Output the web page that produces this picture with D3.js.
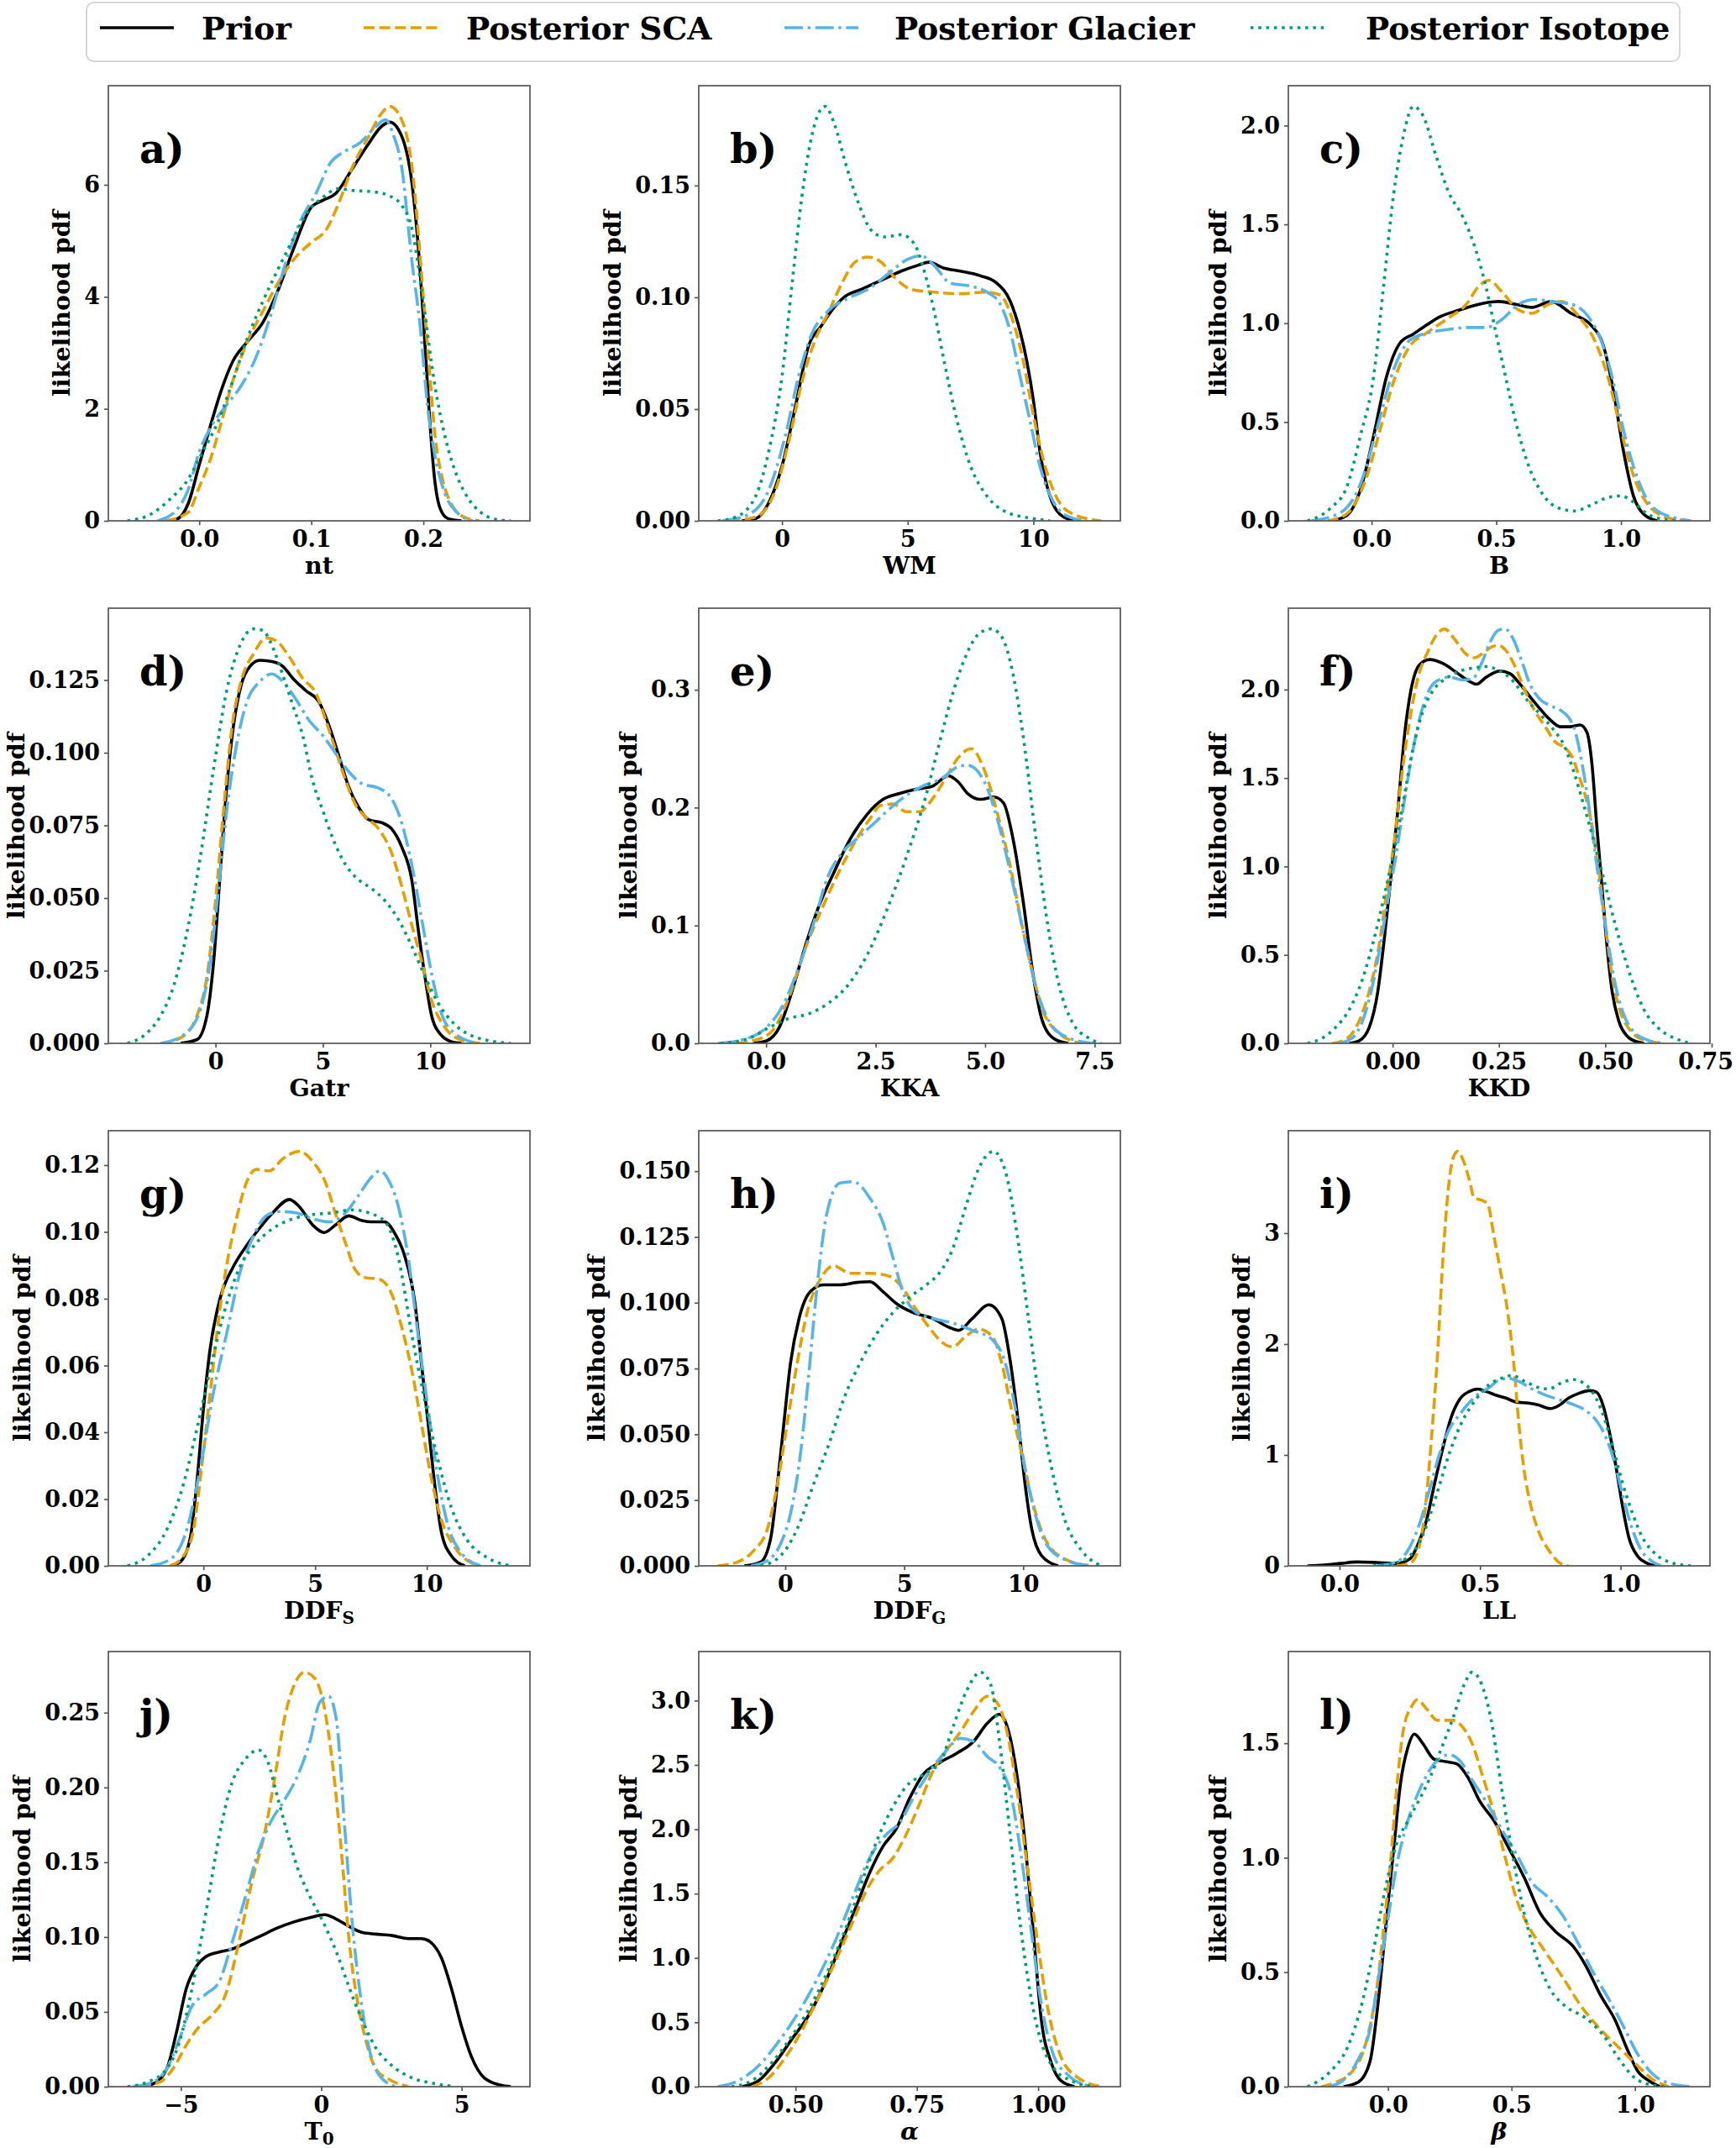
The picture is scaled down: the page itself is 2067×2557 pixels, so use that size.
<!DOCTYPE html>
<html>
<head>
<meta charset="utf-8">
<script src="https://cdn.jsdelivr.net/npm/d3@7"></script>
<style>
  body { margin: 0; background: #fff; }
  svg text { font-family: "DejaVu Serif", serif; font-weight: bold; fill: #000; }
</style>
</head>
<body>
<svg id="chart" width="2067" height="2557" viewBox="0 0 2067 2557" xmlns="http://www.w3.org/2000/svg"></svg>
<script>
// ---- data: [x, density] pairs per series ----
const a_prior = [[-0.03,0],[-0.02,0.03],[-0.01,0.3],[0,1.0],[0.01,1.7],[0.02,2.35],[0.03,2.85],[0.043,3.2],[0.057,3.55],[0.07,4.1],[0.084,4.85],[0.1,5.6],[0.11,5.72],[0.122,5.85],[0.137,6.3],[0.15,6.7],[0.163,7.05],[0.17,7.12],[0.18,6.9],[0.19,6.0],[0.195,5.0],[0.2,3.6],[0.205,2.0],[0.21,0.75],[0.215,0.22],[0.222,0.04],[0.234,0]];
const a_sca = [[-0.03,0],[-0.01,0.15],[0,0.6],[0.01,1.1],[0.02,1.78],[0.03,2.5],[0.043,3.2],[0.057,3.75],[0.07,4.24],[0.087,4.73],[0.1,4.97],[0.114,5.22],[0.124,5.65],[0.137,6.33],[0.15,6.82],[0.164,7.31],[0.17,7.4],[0.18,7.19],[0.19,6.3],[0.2,4.0],[0.205,2.8],[0.21,1.6],[0.217,0.75],[0.225,0.3],[0.235,0.08],[0.25,0]];
const a_gla = [[-0.037,0],[-0.02,0.2],[-0.01,0.55],[0,1.23],[0.01,1.66],[0.023,2.03],[0.037,2.4],[0.05,2.89],[0.063,3.62],[0.077,4.6],[0.09,5.34],[0.104,5.84],[0.117,6.39],[0.13,6.6],[0.144,6.76],[0.157,7.03],[0.166,7.16],[0.174,6.85],[0.18,6.4],[0.19,4.6],[0.197,3.5],[0.204,2.0],[0.21,1.2],[0.22,0.45],[0.23,0.15],[0.244,0]];
const a_iso = [[-0.064,0],[-0.043,0.12],[-0.027,0.37],[-0.01,0.74],[0.003,1.23],[0.017,1.78],[0.03,2.5],[0.043,3.26],[0.057,3.93],[0.07,4.48],[0.084,5.04],[0.097,5.53],[0.11,5.77],[0.124,5.93],[0.137,5.9],[0.157,5.87],[0.17,5.8],[0.18,5.65],[0.19,5.2],[0.2,3.9],[0.21,2.45],[0.22,1.45],[0.23,0.8],[0.24,0.4],[0.25,0.17],[0.264,0.03],[0.278,0]];

const b_prior = [[-1.6,0],[-1.05,0.001],[-0.53,0.008],[0,0.0245],[0.53,0.051],[1.05,0.078],[1.58,0.0875],[1.97,0.094],[2.5,0.1003],[3.16,0.1036],[3.95,0.1076],[4.74,0.1117],[5.4,0.1143],[5.84,0.1157],[6.45,0.113],[7.1,0.1117],[7.9,0.1096],[8.55,0.1063],[9.08,0.0983],[9.47,0.0849],[9.74,0.0714],[10,0.054],[10.26,0.0312],[10.66,0.011],[11.05,0.003],[11.6,0]];
const b_sca = [[-2.1,0],[-1.05,0.0017],[-0.26,0.0138],[0.26,0.035],[0.79,0.062],[1.32,0.081],[1.84,0.093],[2.37,0.106],[2.9,0.1157],[3.42,0.118],[3.95,0.1157],[4.47,0.109],[5.13,0.1036],[6.05,0.1023],[7.1,0.1016],[8.16,0.1023],[8.68,0.101],[9.2,0.0889],[9.6,0.0714],[10,0.0473],[10.4,0.0272],[10.9,0.011],[11.58,0.003],[12.7,0]];
const b_gla = [[-2.37,0],[-1.3,0.003],[-0.53,0.0138],[0.13,0.038],[0.66,0.0647],[1.18,0.0835],[1.84,0.094],[2.63,0.0996],[3.42,0.1036],[4.2,0.1103],[5,0.117],[5.53,0.1186],[6.05,0.1143],[6.7,0.1063],[7.5,0.105],[8.16,0.1023],[8.68,0.097],[9.08,0.0849],[9.47,0.0647],[9.87,0.0446],[10.26,0.0245],[10.8,0.0084],[11.3,0.0024],[12.1,0]];
const b_iso = [[-2.55,0],[-1.84,0.0017],[-1.05,0.011],[-0.53,0.031],[0,0.0647],[0.39,0.105],[0.79,0.145],[1.18,0.172],[1.71,0.1854],[2.1,0.177],[2.5,0.161],[3.03,0.1425],[3.55,0.13],[4.08,0.127],[4.74,0.128],[5.26,0.124],[5.66,0.1117],[6.05,0.094],[6.45,0.0714],[6.97,0.0446],[7.5,0.0245],[8.16,0.011],[8.95,0.0038],[10,0.001],[10.66,0]];

const c_prior = [[-0.164,0],[-0.1,0.027],[-0.045,0.156],[0.008,0.43],[0.06,0.73],[0.114,0.9],[0.167,0.945],[0.22,0.99],[0.27,1.03],[0.35,1.066],[0.43,1.096],[0.51,1.11],[0.577,1.096],[0.643,1.08],[0.72,1.11],[0.8,1.05],[0.88,0.99],[0.93,0.884],[0.97,0.656],[1.01,0.353],[1.05,0.126],[1.09,0.035],[1.145,0]];
const c_sca = [[-0.177,0],[-0.1,0.035],[-0.018,0.23],[0.034,0.46],[0.087,0.7],[0.153,0.884],[0.22,0.95],[0.3,1.02],[0.38,1.096],[0.43,1.187],[0.47,1.217],[0.524,1.157],[0.59,1.066],[0.643,1.05],[0.71,1.096],[0.76,1.11],[0.83,1.035],[0.894,0.914],[0.947,0.73],[1.0,0.46],[1.05,0.23],[1.12,0.065],[1.2,0.012],[1.28,0]];
const c_gla = [[-0.243,0],[-0.124,0.042],[-0.045,0.186],[0.02,0.46],[0.087,0.76],[0.153,0.914],[0.22,0.95],[0.3,0.967],[0.38,0.978],[0.458,0.978],[0.524,1.02],[0.59,1.096],[0.656,1.12],[0.72,1.11],[0.8,1.096],[0.868,1.035],[0.92,0.914],[0.97,0.7],[1.01,0.46],[1.066,0.217],[1.13,0.065],[1.225,0.012],[1.28,0]];
const c_iso = [[-0.257,0],[-0.164,0.065],[-0.1,0.17],[-0.045,0.43],[0.008,0.73],[0.048,1.187],[0.087,1.64],[0.127,1.945],[0.167,2.097],[0.206,2.05],[0.26,1.84],[0.31,1.66],[0.365,1.54],[0.418,1.37],[0.458,1.187],[0.497,0.96],[0.537,0.73],[0.577,0.505],[0.63,0.277],[0.683,0.14],[0.75,0.065],[0.815,0.05],[0.88,0.08],[0.947,0.118],[1.0,0.126],[1.05,0.095],[1.106,0.035],[1.17,0.008],[1.225,0]];

const d_prior = [[-1.63,0],[-0.86,0.0013],[-0.4,0.0096],[-0.09,0.028],[0.22,0.059],[0.52,0.088],[0.83,0.109],[1.2,0.1235],[1.6,0.1297],[2.06,0.1318],[2.68,0.1313],[3.14,0.1297],[3.6,0.1256],[4.2,0.1214],[4.83,0.1173],[5.3,0.109],[5.75,0.0987],[6.2,0.0883],[6.68,0.081],[7.14,0.0769],[7.75,0.0759],[8.2,0.0738],[8.67,0.0676],[9.14,0.0562],[9.45,0.0386],[9.75,0.0231],[10.06,0.0096],[10.5,0.0029],[11,0.0005],[11.45,0]];
const d_sca = [[-2.55,0],[-1.63,0.0019],[-0.86,0.0096],[-0.4,0.023],[0,0.049],[0.37,0.08],[0.77,0.109],[1.23,0.1256],[1.75,0.1338],[2.37,0.1395],[2.83,0.1385],[3.45,0.1328],[4.06,0.1256],[4.68,0.1204],[5.14,0.111],[5.6,0.1007],[6.06,0.0904],[6.52,0.0821],[6.98,0.078],[7.6,0.0738],[8.2,0.0655],[8.67,0.0541],[9.14,0.0407],[9.6,0.0283],[10.06,0.0148],[10.68,0.0055],[11.45,0.0011],[12.37,0]];
const d_gla = [[-2.55,0],[-1.48,0.0029],[-0.7,0.0117],[-0.25,0.028],[0.15,0.054],[0.52,0.08],[0.98,0.1028],[1.45,0.1173],[2.06,0.1245],[2.62,0.1271],[3.14,0.1245],[3.75,0.1183],[4.37,0.111],[5,0.1059],[5.6,0.0997],[6.2,0.0935],[6.83,0.0893],[7.6,0.0878],[8.2,0.0842],[8.67,0.0759],[9.14,0.0614],[9.6,0.0428],[10.06,0.0241],[10.5,0.0107],[11.14,0.0034],[12.2,0]];
const d_iso = [[-4.1,0],[-3.3,0.0029],[-2.55,0.0096],[-1.94,0.02],[-1.32,0.0386],[-0.7,0.0645],[-0.09,0.0945],[0.52,0.1214],[1.14,0.137],[1.75,0.1426],[2.2,0.1421],[2.68,0.136],[3.14,0.1266],[3.6,0.1163],[4.06,0.1059],[4.52,0.0904],[5,0.08],[5.45,0.0707],[6.06,0.0614],[6.68,0.0562],[7.3,0.0531],[7.9,0.049],[8.5,0.0428],[9.14,0.0334],[9.75,0.0231],[10.37,0.0138],[11.14,0.0065],[12.2,0.0019],[13.75,0]];

const e_prior = [[-0.3,0],[0,0.002],[0.3,0.0135],[0.59,0.044],[0.89,0.082],[1.19,0.115],[1.56,0.146],[1.93,0.174],[2.3,0.194],[2.67,0.207],[3.05,0.212],[3.42,0.2156],[3.79,0.218],[4.16,0.227],[4.38,0.222],[4.6,0.212],[4.9,0.207],[5.2,0.209],[5.42,0.204],[5.65,0.171],[5.87,0.12],[6.1,0.057],[6.31,0.0186],[6.6,0.0033],[6.9,0]];
const e_sca = [[-0.67,0],[-0.22,0.003],[0.15,0.011],[0.52,0.039],[0.89,0.08],[1.26,0.113],[1.63,0.143],[2,0.169],[2.38,0.191],[2.6,0.2016],[2.9,0.203],[3.2,0.1965],[3.5,0.1965],[3.79,0.207],[4.09,0.2245],[4.38,0.242],[4.68,0.25],[4.98,0.232],[5.27,0.1965],[5.57,0.151],[5.87,0.095],[6.1,0.057],[6.31,0.0287],[6.69,0.0084],[7.2,0]];
const e_gla = [[-1.1,0],[-0.52,0.0033],[-0.07,0.011],[0.37,0.0313],[0.74,0.064],[1.11,0.105],[1.4,0.1406],[1.78,0.1635],[2.15,0.176],[2.53,0.189],[2.9,0.2016],[3.27,0.212],[3.64,0.2194],[4,0.2245],[4.38,0.2347],[4.6,0.236],[4.98,0.222],[5.27,0.1915],[5.57,0.146],[5.87,0.095],[6.17,0.0465],[6.46,0.0186],[6.9,0.0046],[7.5,0]];
const e_iso = [[-1.04,0],[-0.37,0.0046],[0.07,0.0135],[0.52,0.0211],[0.97,0.025],[1.41,0.0338],[1.86,0.049],[2.3,0.0745],[2.75,0.1126],[3.2,0.158],[3.64,0.209],[3.94,0.2525],[4.23,0.293],[4.53,0.326],[4.83,0.3465],[5.13,0.3516],[5.35,0.3465],[5.65,0.311],[5.87,0.26],[6.17,0.171],[6.4,0.1075],[6.69,0.049],[6.98,0.0186],[7.36,0.0046],[7.65,0]];

const f_prior = [[-0.102,0],[-0.079,0.014],[-0.055,0.09],[-0.035,0.29],[-0.02,0.58],[-0.004,0.94],[0.012,1.31],[0.028,1.74],[0.043,1.995],[0.063,2.14],[0.087,2.17],[0.118,2.148],[0.15,2.097],[0.181,2.046],[0.197,2.03],[0.22,2.07],[0.252,2.105],[0.276,2.09],[0.3,2.03],[0.323,1.96],[0.347,1.89],[0.37,1.83],[0.394,1.79],[0.418,1.79],[0.441,1.8],[0.457,1.757],[0.469,1.57],[0.48,1.23],[0.492,0.89],[0.504,0.55],[0.516,0.294],[0.532,0.124],[0.552,0.039],[0.575,0.008],[0.591,0]];
const f_sca = [[-0.142,0],[-0.11,0.022],[-0.079,0.124],[-0.055,0.294],[-0.032,0.55],[-0.012,0.89],[0.004,1.145],[0.02,1.485],[0.04,1.825],[0.059,2.06],[0.083,2.216],[0.106,2.318],[0.122,2.343],[0.146,2.284],[0.173,2.2],[0.193,2.18],[0.213,2.207],[0.232,2.24],[0.248,2.25],[0.268,2.216],[0.288,2.13],[0.311,1.995],[0.335,1.876],[0.359,1.79],[0.382,1.705],[0.406,1.67],[0.422,1.62],[0.437,1.52],[0.453,1.4],[0.469,1.23],[0.485,0.974],[0.5,0.668],[0.516,0.38],[0.536,0.175],[0.559,0.073],[0.591,0.019],[0.638,0]];
const f_gla = [[-0.126,0],[-0.095,0.03],[-0.071,0.124],[-0.047,0.33],[-0.028,0.566],[-0.008,0.855],[0.008,1.06],[0.024,1.315],[0.04,1.553],[0.059,1.79],[0.079,1.96],[0.102,2.046],[0.134,2.07],[0.165,2.054],[0.189,2.063],[0.209,2.148],[0.229,2.267],[0.248,2.335],[0.264,2.343],[0.284,2.284],[0.303,2.165],[0.323,2.03],[0.347,1.944],[0.37,1.91],[0.394,1.884],[0.414,1.842],[0.43,1.757],[0.445,1.587],[0.461,1.35],[0.477,1.06],[0.492,0.804],[0.508,0.55],[0.524,0.328],[0.544,0.158],[0.567,0.065],[0.599,0.019],[0.638,0]];
const f_iso = [[-0.2,0],[-0.165,0.03],[-0.134,0.09],[-0.102,0.19],[-0.071,0.362],[-0.039,0.634],[-0.016,0.872],[0.004,1.093],[0.024,1.35],[0.047,1.655],[0.071,1.876],[0.095,1.995],[0.126,2.063],[0.158,2.105],[0.189,2.122],[0.221,2.13],[0.252,2.105],[0.284,2.046],[0.315,1.944],[0.347,1.86],[0.378,1.774],[0.402,1.69],[0.426,1.535],[0.449,1.35],[0.473,1.145],[0.497,0.923],[0.52,0.702],[0.544,0.498],[0.567,0.328],[0.591,0.19],[0.623,0.09],[0.662,0.03],[0.701,0]];

const g_prior = [[-1.48,0],[-1.04,0.0012],[-0.59,0.0084],[-0.3,0.0246],[0,0.047],[0.3,0.065],[0.74,0.08],[1.33,0.0895],[1.92,0.0958],[2.5,0.101],[3.1,0.1057],[3.85,0.1097],[4.3,0.1075],[4.9,0.102],[5.4,0.0998],[5.9,0.102],[6.5,0.1048],[7.1,0.1034],[7.54,0.103],[8.1,0.103],[8.58,0.0994],[9.0,0.093],[9.47,0.0786],[9.76,0.0606],[10.06,0.0426],[10.35,0.0246],[10.65,0.0102],[11.1,0.003],[11.7,0]];
const g_sca = [[-1.48,0],[-0.89,0.003],[-0.44,0.011],[-0.09,0.029],[0.3,0.0516],[0.68,0.074],[1.04,0.09],[1.48,0.104],[1.92,0.1147],[2.37,0.1187],[2.96,0.1183],[3.55,0.1219],[4.3,0.1241],[4.9,0.121],[5.47,0.1147],[5.9,0.1057],[6.36,0.0967],[6.8,0.0886],[7.25,0.0863],[7.84,0.0859],[8.43,0.0814],[8.88,0.0714],[9.32,0.0588],[9.76,0.0426],[10.2,0.0264],[10.65,0.0138],[11.24,0.0057],[12.3,0]];
const g_gla = [[-2.37,0],[-1.48,0.002],[-0.74,0.011],[-0.15,0.029],[0.44,0.0516],[1.04,0.0696],[1.63,0.0877],[2.22,0.0985],[2.8,0.1048],[3.4,0.1061],[4.14,0.1057],[4.9,0.1039],[5.62,0.103],[6.36,0.1057],[6.95,0.111],[7.54,0.1165],[7.9,0.1183],[8.28,0.1156],[8.73,0.1075],[9.17,0.0922],[9.6,0.0696],[10.06,0.047],[10.5,0.0264],[10.95,0.012],[11.54,0.0039],[12.4,0]];
const g_iso = [[-3.4,0],[-2.5,0.003],[-1.63,0.011],[-0.89,0.0246],[-0.3,0.0408],[0.3,0.0588],[0.89,0.075],[1.63,0.0895],[2.37,0.0967],[3.1,0.101],[4,0.1039],[4.9,0.1052],[5.77,0.1057],[6.66,0.1066],[7.4,0.1057],[8.14,0.103],[8.73,0.0922],[9.32,0.0696],[9.9,0.0498],[10.5,0.0318],[11.1,0.0174],[11.83,0.0075],[12.7,0.0025],[13.76,0]];

const h_prior = [[-1.72,0],[-1.03,0.0015],[-0.61,0.0106],[-0.33,0.031],[-0.06,0.054],[0.22,0.077],[0.58,0.094],[1.06,0.1043],[1.6,0.1068],[2.3,0.1068],[3,0.1077],[3.56,0.108],[4.1,0.1043],[4.67,0.0997],[5.36,0.0963],[6.2,0.094],[6.9,0.0906],[7.3,0.0895],[7.86,0.094],[8.56,0.0992],[9.1,0.094],[9.47,0.077],[9.8,0.054],[10.08,0.031],[10.36,0.014],[10.78,0.0038],[11.47,0]];
const h_sca = [[-2.83,0],[-2,0.0015],[-1.3,0.006],[-0.75,0.014],[-0.33,0.031],[0.08,0.054],[0.5,0.077],[0.92,0.0963],[1.47,0.1089],[2.03,0.114],[2.72,0.1112],[3.56,0.1112],[4.4,0.11],[4.94,0.1055],[5.5,0.0975],[6.05,0.0906],[6.6,0.0849],[7.03,0.0832],[7.58,0.0872],[8.14,0.09],[8.7,0.0872],[9.1,0.077],[9.5,0.0598],[9.94,0.0426],[10.36,0.0255],[10.9,0.0106],[11.75,0.0026],[12.86,0]];
const h_gla = [[-1.44,0],[-0.75,0.002],[-0.2,0.0083],[0.22,0.0198],[0.64,0.0426],[0.97,0.071],[1.33,0.1055],[1.75,0.134],[2.3,0.1455],[2.86,0.146],[3.56,0.1397],[4.1,0.1306],[4.53,0.117],[4.94,0.1043],[5.5,0.0963],[6.2,0.094],[7.03,0.0923],[7.86,0.0895],[8.7,0.086],[9.25,0.077],[9.67,0.0598],[10.08,0.0369],[10.5,0.0198],[11.05,0.0072],[12,0.0015],[12.86,0]];
const h_iso = [[-1.03,0],[-0.2,0.0038],[0.5,0.014],[1.19,0.031],[1.9,0.048],[2.44,0.063],[3.14,0.077],[3.83,0.088],[4.53,0.0963],[5.22,0.102],[5.9,0.1066],[6.47,0.1112],[7.03,0.1203],[7.58,0.1363],[8.14,0.1512],[8.75,0.1575],[9.25,0.15],[9.8,0.1226],[10.22,0.094],[10.64,0.0655],[11.2,0.0369],[11.75,0.0175],[12.44,0.006],[13.28,0]];

const i_prior = [[-0.114,0],[-0.055,0.008],[0.004,0.022],[0.062,0.035],[0.133,0.03],[0.203,0.022],[0.25,0.062],[0.28,0.2],[0.31,0.415],[0.338,0.74],[0.368,1.066],[0.397,1.337],[0.427,1.5],[0.462,1.573],[0.492,1.595],[0.521,1.573],[0.556,1.54],[0.592,1.513],[0.627,1.478],[0.673,1.467],[0.708,1.45],[0.75,1.418],[0.78,1.445],[0.815,1.513],[0.85,1.554],[0.89,1.58],[0.914,1.567],[0.938,1.445],[0.961,1.2],[0.985,0.876],[1.008,0.523],[1.03,0.252],[1.06,0.09],[1.096,0.022],[1.125,0]];
const i_sca = [[0.203,0],[0.25,0.022],[0.28,0.144],[0.303,0.47],[0.327,1.147],[0.35,1.96],[0.368,2.775],[0.386,3.37],[0.403,3.67],[0.42,3.737],[0.438,3.67],[0.462,3.48],[0.479,3.317],[0.503,3.3],[0.527,3.263],[0.55,2.965],[0.574,2.64],[0.597,2.313],[0.62,1.825],[0.638,1.283],[0.656,0.876],[0.68,0.55],[0.709,0.306],[0.744,0.144],[0.779,0.035],[0.814,0]];
const i_gla = [[0.133,0],[0.203,0.035],[0.25,0.17],[0.286,0.388],[0.32,0.686],[0.356,1.01],[0.39,1.23],[0.427,1.364],[0.462,1.473],[0.497,1.554],[0.533,1.608],[0.568,1.676],[0.6,1.69],[0.638,1.663],[0.685,1.595],[0.732,1.54],[0.78,1.5],[0.826,1.46],[0.873,1.405],[0.914,1.31],[0.95,1.147],[0.979,0.93],[1.008,0.632],[1.038,0.36],[1.073,0.144],[1.108,0.049],[1.143,0]];
const i_iso = [[0.12,0],[0.19,0.022],[0.25,0.09],[0.297,0.28],[0.344,0.632],[0.39,1.01],[0.438,1.31],[0.485,1.5],[0.533,1.635],[0.58,1.695],[0.614,1.717],[0.66,1.663],[0.708,1.608],[0.744,1.595],[0.79,1.65],[0.832,1.68],[0.867,1.65],[0.903,1.554],[0.938,1.364],[0.973,1.066],[1.008,0.74],[1.043,0.47],[1.079,0.252],[1.12,0.117],[1.167,0.04],[1.25,0]];

const j_prior = [[-6.57,0],[-5.98,0.002],[-5.5,0.012],[-5.16,0.036],[-4.8,0.066],[-4.46,0.08],[-4.1,0.087],[-3.64,0.09],[-3.18,0.092],[-2.7,0.096],[-2.13,0.101],[-1.57,0.106],[-1,0.11],[-0.4,0.113],[0.12,0.115],[0.54,0.112],[1,0.107],[1.47,0.103],[1.94,0.102],[2.52,0.101],[3.1,0.099],[3.57,0.099],[3.93,0.096],[4.28,0.086],[4.63,0.066],[5,0.04],[5.35,0.02],[5.8,0.006],[6.4,0.001],[6.75,0]];
const j_sca = [[-6.45,0],[-5.75,0.003],[-5.28,0.012],[-4.8,0.028],[-4.35,0.04],[-3.88,0.048],[-3.4,0.062],[-2.94,0.096],[-2.47,0.137],[-2,0.171],[-1.65,0.207],[-1.3,0.247],[-0.95,0.269],[-0.6,0.277],[-0.23,0.273],[0.07,0.257],[0.42,0.213],[0.72,0.157],[1,0.096],[1.3,0.056],[1.6,0.03],[1.94,0.012],[2.4,0.005],[3.1,0]];
const j_gla = [[-6.7,0],[-6,0.003],[-5.5,0.012],[-5.05,0.032],[-4.6,0.054],[-4.1,0.062],[-3.64,0.07],[-3.18,0.096],[-2.7,0.127],[-2.24,0.157],[-1.8,0.177],[-1.33,0.191],[-0.86,0.207],[-0.4,0.231],[-0.05,0.257],[0.26,0.261],[0.54,0.245],[0.82,0.177],[1.12,0.106],[1.43,0.056],[1.7,0.026],[2.05,0.008],[2.64,0]];
const j_iso = [[-6.9,0],[-6.2,0.003],[-5.5,0.012],[-5.05,0.03],[-4.6,0.066],[-4.1,0.117],[-3.64,0.167],[-3.18,0.203],[-2.7,0.219],[-2.24,0.225],[-1.9,0.217],[-1.55,0.193],[-1.2,0.169],[-0.86,0.147],[-0.4,0.127],[0.07,0.11],[0.54,0.09],[1,0.066],[1.47,0.044],[1.94,0.026],[2.52,0.014],[3.22,0.006],[4.05,0.002],[4.75,0]];

const k_prior = [[0.39,0],[0.424,0.047],[0.458,0.187],[0.493,0.373],[0.528,0.56],[0.562,0.816],[0.597,1.143],[0.625,1.4],[0.652,1.656],[0.68,1.866],[0.708,2.006],[0.735,2.24],[0.763,2.426],[0.798,2.52],[0.832,2.59],[0.867,2.683],[0.895,2.823],[0.92,2.893],[0.936,2.8],[0.957,2.403],[0.975,1.82],[0.992,1.12],[1.006,0.536],[1.027,0.187],[1.047,0.047],[1.075,0]];
const k_sca = [[0.41,0],[0.445,0.07],[0.48,0.233],[0.514,0.443],[0.548,0.7],[0.583,0.98],[0.618,1.283],[0.645,1.516],[0.673,1.68],[0.7,1.773],[0.728,1.96],[0.755,2.193],[0.783,2.45],[0.811,2.613],[0.839,2.753],[0.867,2.916],[0.895,3.033],[0.915,2.986],[0.936,2.753],[0.957,2.286],[0.978,1.703],[0.999,1.12],[1.02,0.606],[1.047,0.233],[1.082,0.07],[1.13,0]];
const k_gla = [[0.34,0],[0.382,0.047],[0.424,0.163],[0.465,0.35],[0.507,0.583],[0.548,0.863],[0.583,1.143],[0.618,1.47],[0.652,1.773],[0.687,1.96],[0.715,2.053],[0.742,2.24],[0.777,2.45],[0.811,2.613],[0.839,2.706],[0.867,2.683],[0.895,2.566],[0.922,2.473],[0.943,2.286],[0.964,1.82],[0.985,1.236],[1.006,0.653],[1.033,0.233],[1.061,0.093],[1.11,0]];
const k_iso = [[0.368,0],[0.41,0.047],[0.451,0.187],[0.493,0.397],[0.535,0.653],[0.576,0.98],[0.611,1.306],[0.645,1.68],[0.673,1.96],[0.7,2.17],[0.728,2.333],[0.763,2.426],[0.798,2.52],[0.825,2.8],[0.853,3.08],[0.881,3.22],[0.902,3.126],[0.922,2.636],[0.943,1.936],[0.964,1.236],[0.985,0.7],[1.006,0.35],[1.033,0.14],[1.068,0.047],[1.116,0]];

const l_prior = [[-0.18,0],[-0.12,0.02],[-0.073,0.11],[-0.043,0.34],[-0.02,0.58],[0.003,0.83],[0.026,1.07],[0.05,1.32],[0.08,1.48],[0.107,1.54],[0.14,1.5],[0.187,1.43],[0.232,1.42],[0.278,1.41],[0.324,1.35],[0.37,1.25],[0.43,1.16],[0.49,1.04],[0.553,0.91],[0.615,0.76],[0.676,0.68],[0.752,0.61],[0.8,0.53],[0.86,0.4],[0.92,0.29],[0.966,0.17],[1.01,0.07],[1.058,0.025],[1.1,0]];
const l_sca = [[-0.27,0],[-0.21,0.02],[-0.15,0.06],[-0.09,0.19],[-0.043,0.45],[-0.012,0.75],[0.011,0.99],[0.034,1.29],[0.064,1.57],[0.095,1.66],[0.118,1.69],[0.156,1.65],[0.2,1.6],[0.263,1.6],[0.294,1.58],[0.34,1.5],[0.385,1.35],[0.43,1.19],[0.477,0.99],[0.523,0.81],[0.569,0.7],[0.63,0.6],[0.706,0.48],[0.783,0.35],[0.86,0.25],[0.936,0.17],[1.012,0.09],[1.07,0.033],[1.135,0]];
const l_gla = [[-0.24,0],[-0.18,0.03],[-0.12,0.12],[-0.073,0.25],[-0.035,0.5],[-0.005,0.7],[0.034,0.96],[0.08,1.16],[0.125,1.29],[0.187,1.41],[0.248,1.45],[0.294,1.42],[0.34,1.34],[0.4,1.24],[0.462,1.12],[0.523,1.01],[0.584,0.89],[0.645,0.83],[0.706,0.75],[0.768,0.63],[0.83,0.5],[0.89,0.39],[0.95,0.27],[1.012,0.14],[1.07,0.057],[1.135,0.016],[1.226,0]];
const l_iso = [[-0.326,0],[-0.24,0.06],[-0.165,0.17],[-0.104,0.37],[-0.058,0.6],[-0.012,0.86],[0.034,1.06],[0.08,1.16],[0.125,1.25],[0.17,1.35],[0.217,1.48],[0.263,1.61],[0.31,1.76],[0.34,1.81],[0.378,1.76],[0.416,1.61],[0.462,1.29],[0.508,0.99],[0.553,0.75],[0.6,0.57],[0.66,0.42],[0.72,0.35],[0.8,0.3],[0.875,0.22],[0.936,0.12],[0.997,0.04],[1.058,0.01],[1.135,0]];

const seriesNames = ['Prior', 'Posterior SCA', 'Posterior Glacier', 'Posterior Isotope'];
const panelLetters = ['a)','b)','c)','d)','e)','f)','g)','h)','i)','j)','k)','l)'];
const xLabelMain = ['nt','WM','B','Gatr','KKA','KKD','DDF','DDF','LL','T','\u03B1','\u03B2'];
const xLabelSub = ['','','','','','','S','G','','0','',''];
const xTicks = [[0,0.1,0.2],[0,5,10],[0,0.5,1],[0,5,10],[0,2.5,5,7.5],[0,0.25,0.5,0.75],
                [0,5,10],[0,5,10],[0,0.5,1],[-5,0,5],[0.5,0.75,1],[0,0.5,1]];
const xFormats = ['.1f','d','.1f','d','.1f','.2f','d','d','.1f','d','.2f','.1f'];
const yTicks = [[0,2,4,6],[0,0.05,0.1,0.15],[0,0.5,1,1.5,2],[0,0.025,0.05,0.075,0.1,0.125],
                [0,0.1,0.2,0.3],[0,0.5,1,1.5,2],[0,0.02,0.04,0.06,0.08,0.1,0.12],
                [0,0.025,0.05,0.075,0.1,0.125,0.15],[0,1,2,3],[0,0.05,0.1,0.15,0.2,0.25],
                [0,0.5,1,1.5,2,2.5,3],[0,0.5,1,1.5]];
const yFormats = ['d','.2f','.1f','.3f','.1f','.1f','.2f','.3f','d','.2f','.1f','.1f'];

const panelSeries = [
  [a_prior,a_sca,a_gla,a_iso],[b_prior,b_sca,b_gla,b_iso],[c_prior,c_sca,c_gla,c_iso],
  [d_prior,d_sca,d_gla,d_iso],[e_prior,e_sca,e_gla,e_iso],[f_prior,f_sca,f_gla,f_iso],
  [g_prior,g_sca,g_gla,g_iso],[h_prior,h_sca,h_gla,h_iso],[i_prior,i_sca,i_gla,i_iso],
  [j_prior,j_sca,j_gla,j_iso],[k_prior,k_sca,k_gla,k_iso],[l_prior,l_sca,l_gla,l_iso]
];

// ---- styles & layout ----
const W = 2067, H = 2557;
const colors = ['#000000', '#E69F00', '#56B4E9', '#009E73'];
const dashes = [null, '13,5.6', '22,5.6,3.5,5.6', '3.5,5.8'];
const lineW = 3.6;
const colX = [129, 832, 1534];
const rowY = [102, 724, 1346, 1966];
const pw = 502, ph = 518;
const tickFont = '27px', labelFont = '28.5px';

const svg = d3.select('#chart');
svg.append('rect').attr('width', W).attr('height', H).attr('fill', '#fff');

// legend
const leg = svg.append('g');
leg.append('rect').attr('x', 103).attr('y', 3).attr('width', 1897).attr('height', 70)
  .attr('rx', 9).attr('fill', '#fff').attr('stroke', '#d6d6d6').attr('stroke-width', 2);
const legLineX = [119, 433, 934, 1489];
const legTextX = [240, 555, 1065, 1626];
seriesNames.forEach((name, s) => {
  leg.append('line').attr('x1', legLineX[s]).attr('x2', legLineX[s] + 88)
    .attr('y1', 33).attr('y2', 33)
    .attr('stroke', colors[s]).attr('stroke-width', lineW)
    .attr('stroke-dasharray', dashes[s]);
  leg.append('text').attr('x', legTextX[s]).attr('y', 47)
    .style('font-size', '37.5px').text(name);
});

const line = d3.line().curve(d3.curveMonotoneX);

panelSeries.forEach((curves, p) => {
  const left = colX[p % 3], top = rowY[Math.floor(p / 3)];
  const all = curves.flat();
  const xe = d3.extent(all, d => d[0]);
  const pad = (xe[1] - xe[0]) * 0.05;
  const ymax = d3.max(all, d => d[1]) * 1.05;

  const x = d3.scaleLinear().domain([xe[0] - pad, xe[1] + pad]).range([0, pw]);
  const y = d3.scaleLinear().domain([0, ymax]).range([ph, 0]);

  const g = svg.append('g').attr('transform', `translate(${left},${top})`);

  g.append('defs').append('clipPath').attr('id', 'clip' + p)
    .append('rect').attr('width', pw).attr('height', ph);

  line.x(d => x(d[0])).y(d => y(d[1]));
  const plot = g.append('g').attr('clip-path', `url(#clip${p})`);
  curves.forEach((c, s) => {
    plot.append('path').datum(c)
      .attr('d', line)
      .attr('fill', 'none')
      .attr('stroke', colors[s])
      .attr('stroke-width', lineW)
      .attr('stroke-linejoin', 'round')
      .attr('stroke-dasharray', dashes[s]);
  });

  // frame
  g.append('rect').attr('width', pw).attr('height', ph)
    .attr('fill', 'none').attr('stroke', '#555').attr('stroke-width', 1.7);

  const xa = g.append('g').attr('transform', `translate(0,${ph})`)
    .call(d3.axisBottom(x).tickValues(xTicks[p]).tickFormat(d3.format(xFormats[p]))
      .tickSizeOuter(0).tickSize(5).tickPadding(7));
  const ya = g.append('g')
    .call(d3.axisLeft(y).tickValues(yTicks[p]).tickFormat(d3.format(yFormats[p]))
      .tickSizeOuter(0).tickSize(5).tickPadding(5));
  [xa, ya].forEach(a => {
    a.select('.domain').remove();
    a.selectAll('line').attr('stroke', '#555').attr('stroke-width', 1.7);
    a.selectAll('text').style('font-size', tickFont).attr('fill', '#000')
      .style('font-family', '"DejaVu Serif", serif').style('font-weight', 'bold');
  });

  // keep x tick labels inside the page
  xa.selectAll('.tick').each(function () {
    const t = d3.select(this);
    const tx = +t.attr('transform').match(/translate\(([-\d.]+)/)[1];
    const bw = t.select('text').node().getBBox().width;
    const over = left + tx + bw / 2 - (W - 3);
    if (over > 0) t.select('text').attr('x', -over);
  });

  // y label placed left of the widest tick label, but not off the page
  let maxW = 0;
  ya.selectAll('text').each(function () { maxW = Math.max(maxW, this.getBBox().width); });
  const ylx = Math.max(-10 - maxW - 17, -left + 29);
  g.append('text')
    .attr('transform', `translate(${ylx},${ph / 2}) rotate(-90)`)
    .attr('text-anchor', 'middle')
    .style('font-size', labelFont)
    .text('likelihood pdf');

  // x label
  const xl = g.append('text').attr('x', pw / 2).attr('y', ph + 63)
    .attr('text-anchor', 'middle').style('font-size', labelFont);
  const greek = xLabelMain[p] === '\u03B1' || xLabelMain[p] === '\u03B2';
  xl.append('tspan').text(xLabelMain[p]).style('font-style', greek ? 'italic' : 'normal');
  if (xLabelSub[p]) {
    xl.append('tspan').attr('dy', 6).style('font-size', '20px').text(xLabelSub[p]);
  }

  // panel letter
  g.append('text').attr('x', 37).attr('y', 92).style('font-size', '48px').text(panelLetters[p]);
});
</script>
</body>
</html>
